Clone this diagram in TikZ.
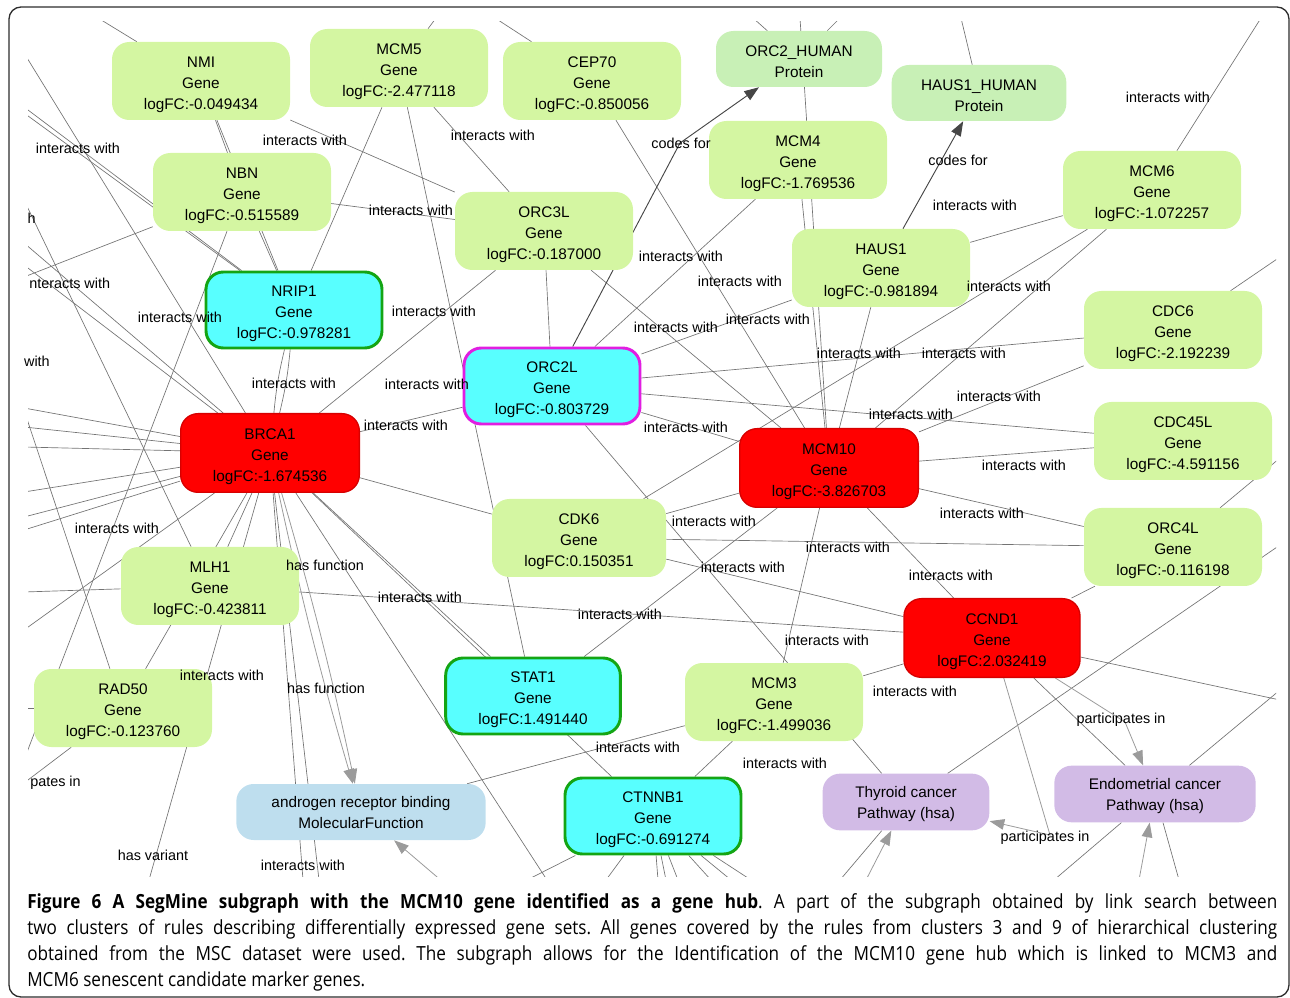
\documentclass[tikz,border=0pt]{standalone}
\usepackage{fontspec}
\setmainfont{Liberation Sans}
\newfontfamily\capfont[FakeStretch=0.88]{Open Sans}
\usetikzlibrary{arrows.meta}
\pgfdeclarelayer{background}
\pgfsetlayers{background,main}

\definecolor{genegreen}{RGB}{212,246,162}
\definecolor{protgreen}{RGB}{200,240,182}
\definecolor{seedcyan}{RGB}{88,255,255}
\definecolor{seededge}{RGB}{20,165,20}
\definecolor{magentaedge}{RGB}{225,30,225}
\definecolor{hubred}{RGB}{255,0,0}
\definecolor{hubedge}{RGB}{215,0,0}
\definecolor{funcblue}{RGB}{190,222,238}
\definecolor{pathlilac}{RGB}{210,187,230}
\definecolor{edgegray}{RGB}{115,115,115}
\definecolor{codegray}{RGB}{70,70,70}
\definecolor{softgray}{RGB}{155,155,155}
\definecolor{framegray}{RGB}{45,45,45}

\tikzset{
  box/.style={rounded corners=13pt, align=center, inner sep=0pt,
    font=\fontsize{11.5}{15.75}\selectfont},
  threeline/.style={box, text height=45.5pt},
  twoline/.style={box, text height=27.2pt},
  gene/.style={threeline, fill=genegreen, minimum width=133.5pt, minimum height=58.5pt},
  hub/.style={threeline, fill=hubred, draw=hubedge, line width=1pt, minimum width=134pt, minimum height=59pt},
  seed/.style={threeline, fill=seedcyan, draw=seededge, line width=2.2pt, minimum width=132pt, minimum height=57pt},
  protein/.style={twoline, fill=protgreen, minimum height=42pt},
  func/.style={twoline, text height=24.8pt, fill=funcblue, minimum height=42pt},
  pathway/.style={twoline, fill=pathlilac, minimum height=42.5pt},
  edge/.style={draw=edgegray, line width=0.5pt},
  codes/.style={draw=codegray, line width=0.7pt, -{Triangle[length=11pt,width=8pt]}},
  soft/.style={draw=softgray, line width=0.6pt, -{Triangle[length=11pt,width=8pt]}},
  lbl/.style={font=\fontsize{10.8}{12}\selectfont, inner sep=0pt},
  captext/.style={font=\capfont\fontsize{14.6}{19}\selectfont\frenchspacing, inner sep=0pt, anchor=base west},
}

\begin{document}
\begin{tikzpicture}[x=0.75pt,y=-0.75pt]
\useasboundingbox (0,0) rectangle (1290,998);
\draw[framegray, line width=1pt, rounded corners=9pt] (9,7) rectangle (1289,997);

% nodes
\node[gene] (NMI) at (201,81) {NMI\\Gene\\logFC:-0.049434};
\node[gene] (MCM5) at (399,68) {MCM5\\Gene\\logFC:-2.477118};
\node[gene] (CEP70) at (592,81) {CEP70\\Gene\\logFC:-0.850056};
\node[protein, minimum width=124.5pt] (ORC2H) at (799,59) {ORC2\_HUMAN\\Protein};
\node[protein, minimum width=131pt] (HAUS1H) at (979,93) {HAUS1\_HUMAN\\Protein};
\node[gene] (MCM4) at (798,160) {MCM4\\Gene\\logFC:-1.769536};
\node[gene] (MCM6) at (1152,190) {MCM6\\Gene\\logFC:-1.072257};
\node[gene] (NBN) at (242,192) {NBN\\Gene\\logFC:-0.515589};
\node[gene] (ORC3L) at (544,231) {ORC3L\\Gene\\logFC:-0.187000};
\node[gene] (HAUS1) at (881,268) {HAUS1\\Gene\\logFC:-0.981894};
\node[seed] (NRIP1) at (294,310) {NRIP1\\Gene\\logFC:-0.978281};
\node[gene] (CDC6) at (1173,330) {CDC6\\Gene\\logFC:-2.192239};
\node[seed, draw=magentaedge] (ORC2L) at (552,386) {ORC2L\\Gene\\logFC:-0.803729};
\node[hub] (BRCA1) at (270,453) {BRCA1\\Gene\\logFC:-1.674536};
\node[hub] (MCM10) at (829,468) {MCM10\\Gene\\logFC:-3.826703};
\node[gene] (CDC45L) at (1183,441) {CDC45L\\Gene\\logFC:-4.591156};
\node[gene] (ORC4L) at (1173,547) {ORC4L\\Gene\\logFC:-0.116198};
\node[gene, minimum width=130.5pt] (CDK6) at (579,538) {CDK6\\Gene\\logFC:0.150351};
\node[gene] (MLH1) at (210,586) {MLH1\\Gene\\logFC:-0.423811};
\node[hub, minimum width=132pt] (CCND1) at (992,638) {CCND1\\Gene\\logFC:2.032419};
\node[gene] (RAD50) at (123,708) {RAD50\\Gene\\logFC:-0.123760};
\node[seed, minimum width=131pt] (STAT1) at (533,696) {STAT1\\Gene\\logFC:1.491440};
\node[gene] (MCM3) at (774,702) {MCM3\\Gene\\logFC:-1.499036};
\node[func, minimum width=187pt] (ARB) at (361,812) {androgen receptor binding\\MolecularFunction};
\node[seed] (CTNNB1) at (653,816) {CTNNB1\\Gene\\logFC:-0.691274};
\node[pathway, minimum width=125pt] (THY) at (906,802) {Thyroid cancer\\Pathway (hsa)};
\node[pathway, minimum width=151pt] (ENDO) at (1155,794) {Endometrial cancer\\Pathway (hsa)};

\begin{pgfonlayer}{background}
\begin{scope}
\clip (28,22) rectangle (1276,876);
% edges leaving the cut
\foreach \n/\px/\py/\tgt in {t1/98/18/NMI, t2/436/18/MCM5, t3/495/18/CEP70, t4/753/18/ORC2H,
    t5/800/18/MCM10, t6/840/18/ORC2H, t7/961/18/HAUS1H, t8/1261/18/MCM6,
    l1/24/53/BRCA1, l2/24/107/NRIP1, l3/24/113/NRIP1, l4/24/200/MLH1, l5/24/243/BRCA1,
    l6/24/265/BRCA1, l7/24/277/NBN, l8/24/408/BRCA1, l9/24/427/BRCA1, l10/24/447/BRCA1,
    l11/24/492/BRCA1, l12/24/517/BRCA1, l13/24/530/BRCA1, l14/24/592/MLH1, l15/24/630/BRCA1,
    l16/24/410/RAD50, l17/24/708/RAD50, l18/24/783/RAD50, l19/24/760/NBN,
    b1/149/880/BRCA1, b2/303/880/BRCA1, b3/319/880/BRCA1, b4/547/880/BRCA1,
    b5/527/880/CTNNB1, b6/606/880/CTNNB1, b7/658/880/CTNNB1, b8/666/880/CTNNB1,
    b9/678/880/CTNNB1, b10/711/880/CTNNB1, b11/731/880/CTNNB1, b12/751/880/CTNNB1,
    b13/840/880/THY, b14/1054/880/ENDO, b15/1179/880/ENDO,
    r1/1280/257/CDC6, r2/1280/458/ORC4L, r3/1280/545/THY, r4/1280/690/ENDO, r5/1280/700/CCND1}
  {\coordinate (\n) at (\px,\py); \draw[edge] (\n) -- (\tgt);}

% edges between shown nodes
\foreach \a/\b in {NMI/NBN, NMI/NRIP1, NMI/ORC3L, MCM5/NRIP1, MCM5/STAT1, MCM5/ORC3L,
    CEP70/MCM10, MCM4/MCM10, MCM4/ORC2L, MCM6/HAUS1, MCM6/MCM10, MCM6/CDK6,
    NBN/NRIP1, NBN/ORC3L, ORC3L/ORC2L, ORC3L/BRCA1, ORC3L/MCM10, HAUS1/MCM10, HAUS1/ORC2L,
    CDC6/ORC2L, CDC6/MCM10, ORC2L/BRCA1, ORC2L/CDC45L, ORC2L/MCM10, ORC2L/THY,
    BRCA1/CDK6, BRCA1/STAT1, BRCA1/MLH1, BRCA1/RAD50, BRCA1/CTNNB1,
    MCM10/CDC45L, MCM10/ORC4L, MCM10/CCND1, MCM10/CDK6, MCM10/STAT1, MCM10/MCM3,
    ORC4L/CDK6, ORC4L/CCND1, CDK6/CCND1, MLH1/CCND1, MCM3/CCND1, MCM3/CTNNB1,
    MCM3/ARB, CCND1/ENDO}
  {\draw[edge] (\a) -- (\b);}
\draw[edge] (NRIP1) to[bend left=4] (BRCA1);
\draw[edge] (NRIP1) to[bend right=4] (BRCA1);

% directed ones
\coordinate (bendA) at (680,143);
\coordinate (bendB) at (1125,722);
\coordinate (bendC) at (1050,835);
\coordinate (ba1) at (450,888);
\coordinate (ba2) at (866,880);
\coordinate (ba3) at (1139,880);
\draw[codes] (ORC2L) -- (bendA) -- (ORC2H);
\draw[codes] (HAUS1) -- (HAUS1H);
\draw[soft] (BRCA1) to[bend left=2] (ARB);
\draw[soft] (BRCA1) to[bend right=2] (ARB);
\draw[soft] (CCND1) -- (bendB) -- (ENDO);
\draw[soft] (CCND1) -- (bendC) -- (THY);
\draw[soft] (ba1) -- (ARB);
\draw[soft] (ba2) -- (THY);
\draw[soft] (ba3) -- (ENDO);
\end{scope}
\end{pgfonlayer}

% edge labels
\foreach \lx/\ly [count=\i] in {78/148, 305/140, 493/135, 1168/97, 411/210, 975/205,
    681/256, 180/317, 434/311, 740/281, 1009/286, 676/327, 768/319,
    294/383, 427/384, 859/353, 964/353, 999/396, 406/425, 686/427, 911/414, 1024/465,
    117/528, 714/521, 982/513, 848/547, 743/567, 951/575, 420/597, 620/614, 827/640,
    222/675, 915/691, 638/747, 785/763, 303/865}
  \node[lbl] (iw\i) at (\lx,\ly) {interacts with};
\node[lbl, anchor=west] (cut1) at (29,283) {nteracts with};
\node[lbl, anchor=east] (cut2) at (36,218) {h};
\node[lbl, anchor=east] (cut3) at (50,361) {with};
\node[lbl, anchor=west] (cut4) at (30,783) {pates in};
\node[lbl] (cf1) at (681,143) {codes for};
\node[lbl] (cf2) at (958,160) {codes for};
\node[lbl] (hf1) at (325,565) {has function};
\node[lbl] (hf2) at (326,688) {has function};
\node[lbl] (hv1) at (153,855) {has variant};
\node[lbl] (pi1) at (1121,720) {participates in};
\node[lbl] (pi2) at (1045,838) {participates in};

% caption
\node[captext] (cap1) at (27,908) {\makebox[937.5pt][s]{\textbf{Figure 6 A SegMine subgraph with the MCM10 gene identified as a gene hub}. A part of the subgraph obtained by link search between}};
\node[captext] (cap2) at (27,934) {\makebox[937.5pt][s]{two clusters of rules describing differentially expressed gene sets. All genes covered by the rules from clusters 3 and 9 of hierarchical clustering}};
\node[captext] (cap3) at (27,960) {\makebox[937.5pt][s]{obtained from the MSC dataset were used. The subgraph allows for the Identification of the MCM10 gene hub which is linked to MCM3 and}};
\node[captext] (cap4) at (27,986) {MCM6 senescent candidate marker genes.};
\end{tikzpicture}
\end{document}
